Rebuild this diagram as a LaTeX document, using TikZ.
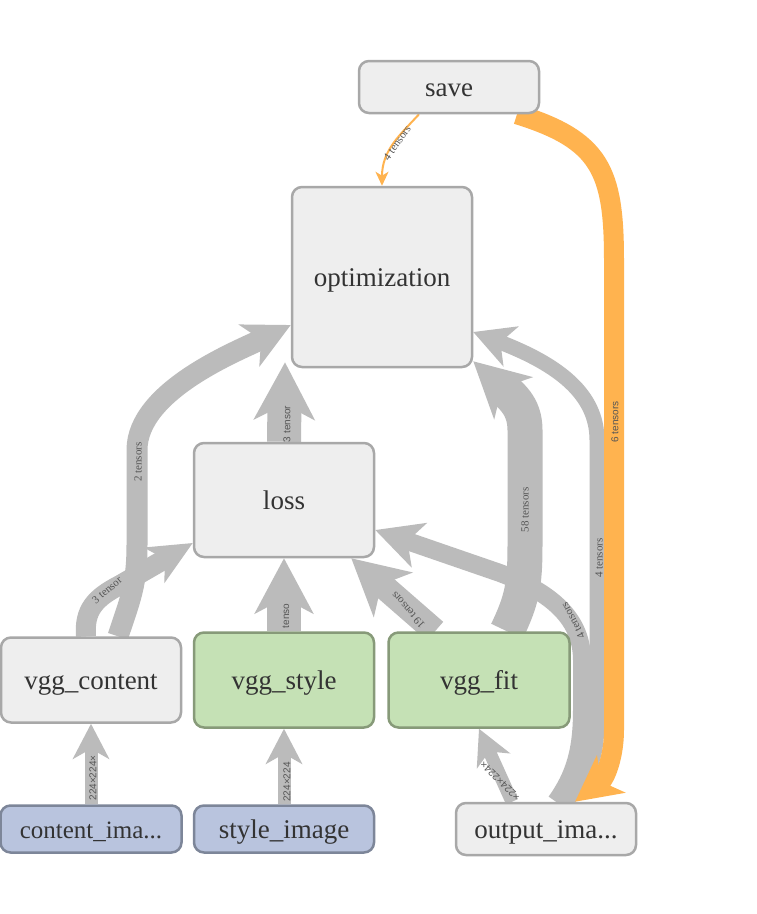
\documentclass[tikz,border=0pt]{standalone}
\usepackage{fontspec}
\setmainfont{Liberation Serif}
\setsansfont{Liberation Sans}
\usetikzlibrary{arrows.meta,calc}
\pgfdeclarelayer{bg}
\pgfsetlayers{bg,main}
\definecolor{ngfill}{HTML}{EEEEEE}
\definecolor{ngdraw}{HTML}{A8A8A8}
\definecolor{grfill}{HTML}{C5E1B5}
\definecolor{grdraw}{HTML}{879A79}
\definecolor{blfill}{HTML}{B9C4DE}
\definecolor{bldraw}{HTML}{7D8699}
\definecolor{edgegray}{HTML}{BBBBBB}
\definecolor{edgeorange}{HTML}{FFB34F}
\definecolor{txtc}{HTML}{333333}
\definecolor{labc}{HTML}{555555}
\begin{document}
\begin{tikzpicture}[x=1pt,y=-1pt,
  base/.style={rounded corners=10pt, line width=2.5pt, minimum width=180pt,
    text=txtc, font=\fontsize{27}{30}\selectfont, inner sep=0pt,
    text height=24pt, text depth=5pt},
  gnode/.style={base, fill=ngfill, draw=ngdraw},
  greennode/.style={base, fill=grfill, draw=grdraw},
  bluenode/.style={base, fill=blfill, draw=bldraw},
  gedge/.style={draw=edgegray, line cap=butt},
  oedge/.style={draw=edgeorange, line cap=butt},
  labserif/.style={font=\fontsize{11}{12}\selectfont, text=labc, inner sep=0pt},
  labsans/.style={font=\sffamily\fontsize{10}{11}\selectfont, text=labc, inner sep=0pt}
]
\useasboundingbox (0,0) rectangle (757,914);

% nodes
\node[gnode, minimum height=52pt] (save) at (449,87) {save};
\node[gnode, minimum height=180pt] (opt) at (382,277) {optimization};
\node[gnode, minimum height=114pt] (loss) at (284,500) {loss};
\node[gnode, minimum height=85pt] (vggc) at (91,680) {vgg\_content};
\node[greennode, minimum height=95pt] (vggs) at (284,680) {vgg\_style};
\node[greennode, minimum height=95pt, minimum width=181pt] (vggf) at (479,680) {vgg\_fit};
\node[bluenode, minimum height=47pt, minimum width=181pt, font=\fontsize{25}{30}\selectfont] (ci) at (91,829) {content\_ima...};
\node[bluenode, minimum height=47pt] (si) at (284,829) {style\_image};
\node[gnode, minimum height=52pt] (out) at (546,829) {output\_ima...};
\coordinate (ltip) at ($(loss.north |- opt.south)+(1,-6)$);

\begin{pgfonlayer}{bg}
\fill[white] (0,0) rectangle (757,914);

% vgg_content -> optimization (2 tensors)
\draw[gedge, line width=21pt, -{Stealth[length=46pt,width=46pt,inset=13pt]}]
  ([xshift=27pt]vggc.north) .. controls (130,600) and (137,585) .. (137,545)
  -- (137,450) .. controls (137,390) and (240,350) .. ([yshift=-48pt]opt.west);
% vgg_content -> loss (3 tensor)
\draw[gedge, line width=20pt, -{Stealth[length=44pt,width=40pt,inset=12pt]}]
  ([xshift=-5pt]vggc.north) .. controls (84,610) and (95,598) .. (120,585)
  -- ([yshift=-43pt]loss.west);
% loss -> optimization
\draw[gedge, line width=34pt, -{Stealth[length=57pt,width=60pt,inset=15pt]}]
  (loss.north) -- (ltip);
% vgg_style -> loss
\draw[gedge, line width=34pt, -{Stealth[length=55pt,width=58pt,inset=15pt]}]
  (vggs.north) -- (loss.south);
% vgg_fit -> loss (19 tensors)
\draw[gedge, line width=25pt, -{Stealth[length=55pt,width=58pt,inset=15pt]}]
  ([xshift=-44pt]vggf.north) -- ([xshift=-24pt]loss.south east);
% vgg_fit -> optimization (58 tensors)
\draw[gedge, line width=35pt, -{Stealth[length=54pt,width=56pt,inset=15pt]}]
  ([xshift=28pt]vggf.north) .. controls (522,600) and (525,585) .. (525,545)
  -- (525,430) .. controls (525,405) and (510,395) .. ([yshift=7pt]opt.south east);
% output -> optimization (4 tensors)
\draw[gedge, line width=15pt, -{Stealth[length=40pt,width=42pt,inset=11pt]}]
  ([xshift=19pt]out.north) .. controls (588,780) and (597,760) .. (597,720)
  -- (597,440) .. controls (597,395) and (560,365) .. ([yshift=-55pt]opt.east);
% output -> loss (4 tensors)
\draw[gedge, line width=18pt, -{Stealth[length=46pt,width=46pt,inset=12pt]}]
  ([xshift=10pt]out.north) .. controls (575,775) and (582,750) .. (582,710)
  -- (582,660) .. controls (582,615) and (545,590) .. (500,573)
  -- ([yshift=-30pt]loss.east);
% inputs
\draw[gedge, line width=13pt, -{Stealth[length=35pt,width=36pt,inset=10pt]}]
  (ci.north) -- (vggc.south);
\draw[gedge, line width=13pt, -{Stealth[length=35pt,width=36pt,inset=10pt]}]
  (si.north) -- (vggs.south);
\draw[gedge, line width=13pt, -{Stealth[length=35pt,width=36pt,inset=10pt]}]
  ([xshift=-34pt]out.north) -- (vggf.south);
% save -> output (6 tensors)
\draw[oedge, line width=20pt, -{Stealth[length=45pt,width=46pt,inset=12pt]}]
  ([xshift=68pt]save.south) .. controls (600,140) and (614,170) .. (614,260)
  -- (614,730) .. controls (614,755) and (606,778) .. ([xshift=29pt]out.north);
% save -> optimization (4 tensors)
\draw[oedge, line width=2pt, -{Stealth[length=14pt,width=13pt,inset=4pt]}]
  ([xshift=-30pt]save.south) .. controls (400,135) and (382,150) .. (opt.north);

% labels
\node[labserif, rotate=55] (l1) at (397,143) {4 tensors};
\node[labsans, rotate=90] (l2) at (615,422) {6 tensors};
\node[labserif, rotate=90] (l3) at (138,462) {2 tensors};
\node[labsans, rotate=90] (l4) at (287,424) {3 tensor};
\node[labsans, rotate=90] (l5) at (286,616) {tenso};
\node[labserif, rotate=40] (l6) at (107,590) {3 tensor};
\node[labserif, rotate=131.5] (l7) at (408,610) {19 tensors};
\node[labserif, rotate=90] (l8) at (525,510) {58 tensors};
\node[labserif, rotate=90] (l9) at (599,558) {4 tensors};
\node[labserif, rotate=118] (l10) at (573,621) {4 tensors};
\node[labsans, rotate=90] (l11) at (93,778) {224×224×};
\node[labsans, rotate=90] (l12) at (287,782) {224×224};
\node[labsans, rotate=136] (l13) at (500,781) {×224×224×};
\end{pgfonlayer}
\end{tikzpicture}
\end{document}
